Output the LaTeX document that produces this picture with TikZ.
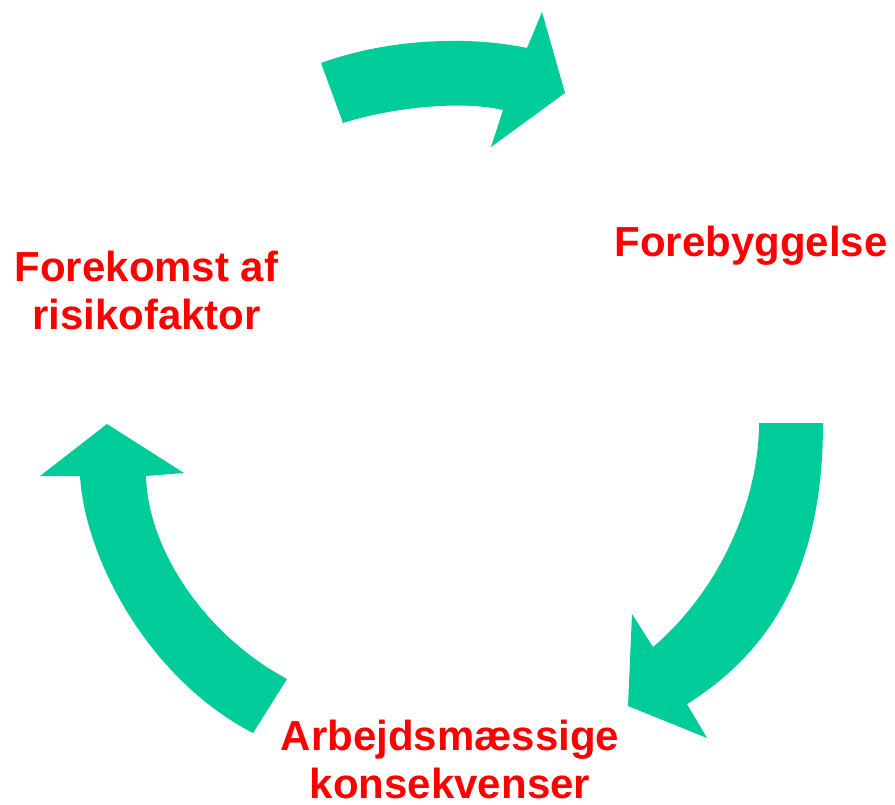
\documentclass[tikz,border=0pt]{standalone}
\usepackage{fontspec}
\setmainfont{Liberation Sans}
\definecolor{arrowgreen}{RGB}{0,204,153}
\definecolor{labelred}{RGB}{255,0,0}
\begin{document}
\begin{tikzpicture}[x=1pt,y=-1pt,
  cyclearrow/.style={fill=arrowgreen,draw=none},
  cyclelabel/.style={text=labelred,font=\bfseries\fontsize{42}{48}\selectfont,align=center,inner sep=0pt,anchor=base}]
\useasboundingbox (0,0) rectangle (895,805);
% top arrow
\fill[cyclearrow] (321,63) .. controls (390,38) and (470,36) .. (527,48) -- (542,12) -- (565,93) -- (491,147) -- (503,110) .. controls (460,100) and (390,108) .. (343,123) -- cycle;
% right arrow
\fill[cyclearrow] (823,423) .. controls (823,540) and (790,640) .. (687,704) -- (707,738) -- (628,706) -- (632,614) -- (653,647) .. controls (720,590) and (759,500) .. (759,423) -- cycle;
% left arrow
\fill[cyclearrow] (253,733) .. controls (150,680) and (85,560) .. (80,476) -- (40,476) -- (107,424) -- (184,473) -- (146,476) .. controls (148,550) and (205,635) .. (287,679) -- cycle;
\node[cyclelabel] (risk) at (146.5,330) {Forekomst af\\risikofaktor};
\node[cyclelabel] (prev) at (751,257) {Forebyggelse};
\node[cyclelabel] (cons) at (450,798) {Arbejdsmæssige\\konsekvenser};
\end{tikzpicture}
\end{document}
